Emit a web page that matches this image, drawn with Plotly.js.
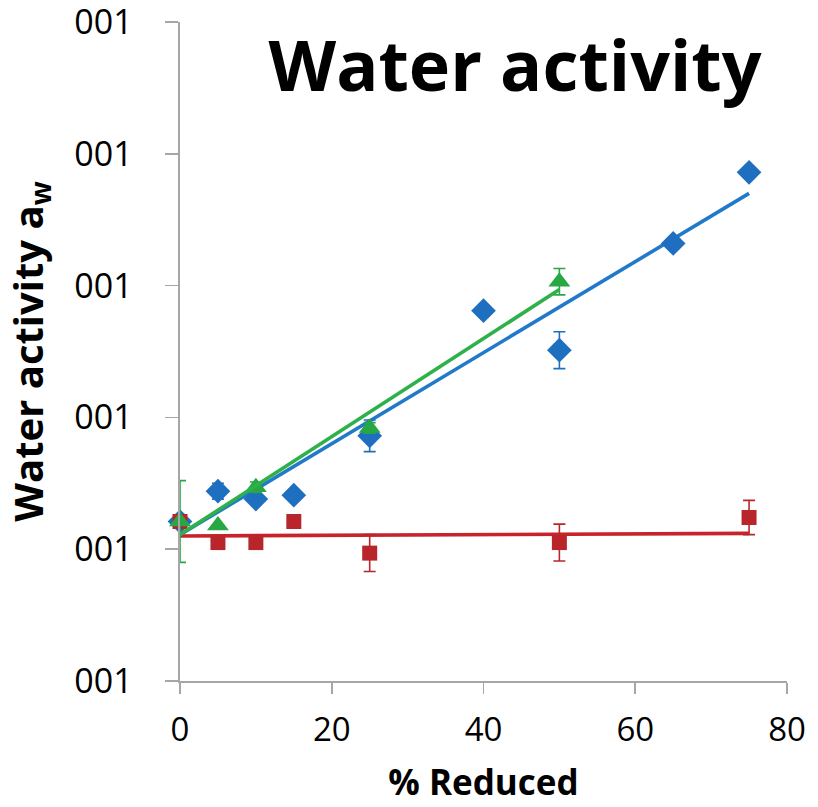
<!DOCTYPE html>
<html>
<head>
<meta charset="utf-8">
<script src="https://cdn.plot.ly/plotly-3.0.1.min.js"></script>
<style>html,body{margin:0;padding:0;background:#fff;}#chart{width:818px;height:807px;}</style>
</head>
<body>
<div id="chart"></div>
<script>
// Data
const blueX = [0, 5, 10, 15, 25, 40, 50, 65, 75];
const blueY = [1.21, 1.44, 1.38, 1.41, 1.86, 2.81, 2.51, 3.32, 3.86];
const blueErr = [0, 0.06, 0.04, 0, 0.12, 0, 0.14, 0, 0.03];

const redX = [0, 5, 10, 15, 25, 50, 75];
const redY = [1.21, 1.05, 1.05, 1.21, 0.97, 1.05, 1.24];
const redErr = [0, 0, 0, 0, 0.14, 0.14, 0.13];

const greenX = [0, 5, 10, 25, 50];
const greenY = [1.21, 1.18, 1.47, 1.92, 3.03];
const greenErr = [0.31, 0, 0.04, 0.04, 0.1];

const blueTrendX = [0, 75];
const blueTrendY = [1.11, 3.70];
const greenTrendX = [0, 50];
const greenTrendY = [1.11, 2.97];
const redTrendX = [0, 75];
const redTrendY = [1.10, 1.12];

const xTicks = [0, 20, 40, 60, 80];
const yTicks = [0, 1, 2, 3, 4, 5];
const yTickText = ["001", "001", "001", "001", "001", "001"];

const BLUE = '#1f6fc1', RED = '#b8262b', GREEN = '#27a845';
const BLUE_L = '#2079c9', RED_L = '#c8232b', GREEN_L = '#2eb14b';

function pts(x, y, err, color, symbol, size) {
  return {
    x: x, y: y, type: 'scatter', mode: 'markers',
    marker: {color: color, symbol: symbol, size: size},
    error_y: {type: 'data', array: err, visible: true, color: color, thickness: 1.6, width: 6},
    showlegend: false, hoverinfo: 'skip', cliponaxis: false
  };
}
function trend(x, y, color) {
  return {x: x, y: y, type: 'scatter', mode: 'lines', line: {color: color, width: 3.6},
    showlegend: false, hoverinfo: 'skip'};
}

const data = [
  trend(blueTrendX, blueTrendY, BLUE_L),
  trend(redTrendX, redTrendY, RED_L),
  pts(blueX, blueY, blueErr, BLUE, 'diamond', 19),
  pts(redX, redY, redErr, RED, 'square', 15),
  pts(greenX, greenY, greenErr, GREEN, 'triangle-up', 19),
  trend(greenTrendX, greenTrendY, GREEN_L)
];

const FONT = 'Open Sans, sans-serif';
const layout = {
  width: 818, height: 807,
  margin: {l: 180, r: 31, t: 22, b: 126},
  paper_bgcolor: '#fff', plot_bgcolor: '#fff',
  font: {family: FONT, color: '#000'},
  title: {text: '<b>Water activity</b>', font: {family: FONT, size: 70, color: '#000'},
    x: 515/818, xanchor: 'center', y: 1 - 66/807, yanchor: 'middle'},
  xaxis: {
    range: [0, 80], tickvals: xTicks, ticktext: xTicks.map(String),
    showgrid: false, zeroline: false, showline: true, linecolor: '#a6a6a6', linewidth: 1.6,
    ticks: 'outside', ticklen: 11, tickwidth: 1.6, tickcolor: '#a6a6a6',
    tickfont: {family: FONT, size: 33, color: '#000'}, ticklabelstandoff: 8,
    ticklabeloverflow: 'allow',
    title: {text: '<b>% Reduced</b>', font: {family: FONT, size: 35, color: '#000'}, standoff: 20}
  },
  yaxis: {
    range: [-0.0005, 5.0005], tickvals: yTicks, ticktext: yTickText,
    showgrid: false, zeroline: false, showline: true, linecolor: '#a6a6a6', linewidth: 1.6,
    ticks: 'outside', ticklen: 13, tickwidth: 1.6, tickcolor: '#a6a6a6',
    tickfont: {family: FONT, size: 34, color: '#000'}, ticklabelstandoff: 26,
    ticklabeloverflow: 'allow',
    title: {text: '<b>Water activity a<sub>w</sub></b>', font: {family: FONT, size: 40, color: '#000'}, standoff: 20}
  }
};

Plotly.newPlot('chart', data, layout, {staticPlot: true, displayModeBar: false});
</script>
</body>
</html>
